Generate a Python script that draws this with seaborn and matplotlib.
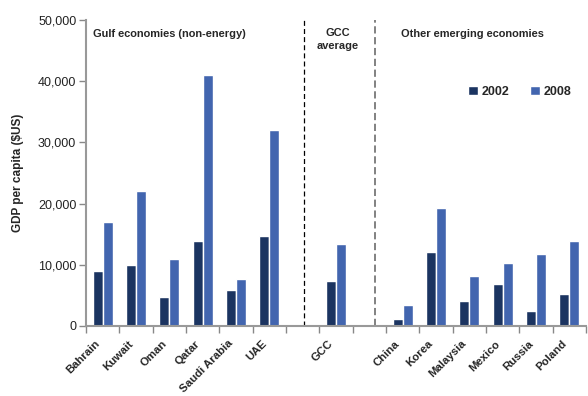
import numpy as np
import pandas as pd
import matplotlib
matplotlib.use("Agg")
import matplotlib.pyplot as plt
import matplotlib.transforms as mtransforms
import seaborn as sns

categories = ["Bahrain", "Kuwait", "Oman", "Qatar", "Saudi Arabia", "UAE",
              "GCC", "China", "Korea", "Malaysia", "Mexico", "Russia", "Poland"]
values_2002 = [9000, 10000, 4750, 13900, 5900, 14750, 7400,
               1150, 12100, 4100, 6900, 2500, 5250]
values_2008 = [17000, 22100, 11000, 41000, 7700, 32100, 13400,
               3450, 19200, 8200, 10300, 11800, 13900]
years = ["2002", "2008"]
# slot order, with blank separator slots
order = ["Bahrain", "Kuwait", "Oman", "Qatar", "Saudi Arabia", "UAE", " ",
         "GCC", "  ", "China", "Korea", "Malaysia", "Mexico", "Russia", "Poland"]
yticks = [0, 10000, 20000, 30000, 40000, 50000]

df = pd.DataFrame({
    "country": categories * 2,
    "year": [years[0]] * len(categories) + [years[1]] * len(categories),
    "gdp": values_2002 + values_2008,
})

sns.set_style("white")
plt.rcParams["font.family"] = ["Liberation Sans", "DejaVu Sans"]

fig = plt.figure(figsize=(5.88, 3.96), dpi=100)
ax = fig.add_axes([86 / 588, 1 - 326 / 396, 500 / 588, 306 / 396])

palette = {"2002": "#1B3461", "2008": "#4265AF"}
sns.barplot(data=df, x="country", y="gdp", hue="year", order=order,
            hue_order=years, palette=palette, width=0.6, ax=ax,
            saturation=1, legend=True)

ax.set_xlim(-0.5, len(order) - 0.5)
ax.set_ylim(0, 50000)
ax.set_yticks(yticks)
ax.set_yticklabels([f"{v:,}" for v in yticks], fontsize=9, color="#222222")
ax.set_xlabel("")
ax.set_ylabel("GDP per capita ($US)", fontsize=8.5, fontweight="bold", labelpad=10)

# x tick labels at category centers
labels = [c if c.strip() else "" for c in order]
ax.set_xticks(range(len(order)))
ax.set_xticklabels(labels, rotation=45, ha="right", rotation_mode="anchor",
                   fontsize=8.2, fontweight="bold")
ax.tick_params(axis="x", which="major", length=0, pad=9)
shift = mtransforms.ScaledTranslation(-8 / 100, 0, fig.dpi_scale_trans)
for lab in ax.get_xticklabels():
    lab.set_transform(lab.get_transform() + shift)
ax.set_xticks(np.arange(-0.5, len(order), 1.0), minor=True)
ax.tick_params(axis="x", which="minor", length=5, width=1, color="#888888",
               direction="out", bottom=True)
ax.tick_params(axis="y", length=5, width=1, color="#888888", direction="out",
               left=True, pad=2)

for s in ["top", "right"]:
    ax.spines[s].set_visible(False)
for s in ["left", "bottom"]:
    ax.spines[s].set_color("#999999")
    ax.spines[s].set_linewidth(1.5)

# separators
ax.axvline(6.03, color="black", lw=0.9, ls=(0, (4, 2.5)))
ax.axvline(8.16, color="#777777", lw=1.3, ls=(0, (4, 2)))

# section texts
ax.text(-0.29, 47700, "Gulf economies (non-energy)", fontsize=7.9,
        fontweight="bold", va="center", ha="left")
ax.text(7.05, 46800, "GCC\naverage", fontsize=7.9, fontweight="bold",
        va="center", ha="center", linespacing=1.3)
ax.text(8.96, 47700, "Other emerging economies", fontsize=7.9,
        fontweight="bold", va="center", ha="left")

leg = ax.legend(loc="center left", bbox_to_anchor=(376 / 500, 1 - 72 / 306),
                ncol=2, frameon=False, handlelength=0.75, handleheight=0.75,
                handletextpad=0.3, columnspacing=1.7, borderpad=0,
                prop={"weight": "bold", "size": 9})

fig.savefig("out.png", dpi=100)
